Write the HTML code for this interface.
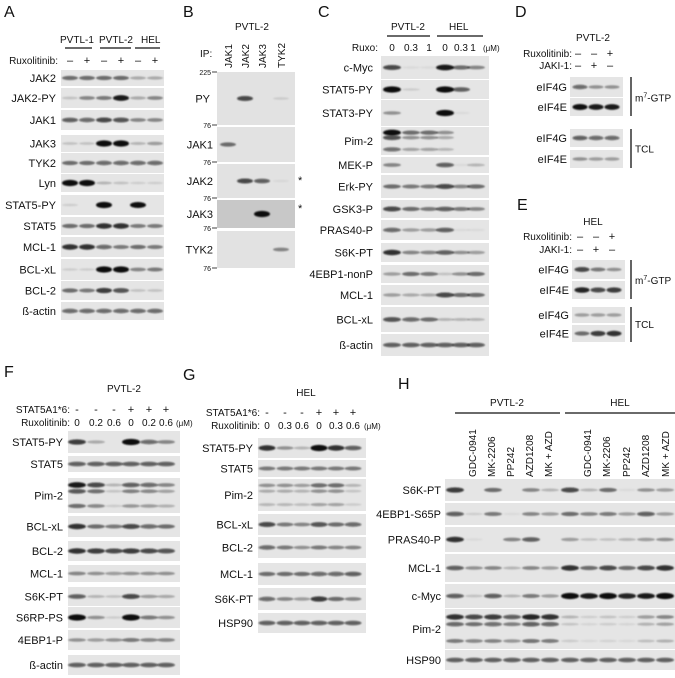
<!DOCTYPE html>
<html><head><meta charset="utf-8">
<style>
html,body{margin:0;padding:0;background:#fff;}
svg{display:block;font-family:"Liberation Sans",Arial,sans-serif;}
</style></head>
<body>
<svg id="fig" width="675" height="678" viewBox="0 0 675 678" xmlns="http://www.w3.org/2000/svg">
<defs><filter id="bl" x="-50%" y="-100%" width="200%" height="300%"><feGaussianBlur stdDeviation="0.8"/></filter></defs>
</svg>
<script>
// ---------- DATA ----------
const A_labels=["JAK2","JAK2-PY","JAK1","JAK3","TYK2","Lyn","STAT5-PY","STAT5","MCL-1","BCL-xL","BCL-2","ß-actin"];
const A_vals=[[.5,.5,.5,.5,.25,.25],[.15,.4,.45,.9,.25,.4],[.6,.55,.7,.65,.4,.4],[.15,.15,1,1,.2,.3],[.5,.5,.55,.55,.55,.55],[1,1,.2,.15,.1,.1],[.1,0,1,0,.95,0],[.5,.5,.8,.8,.45,.45],[.8,.8,.55,.45,.5,.45],[.1,.1,1,1,.4,.45],[.5,.45,.75,.65,.15,.15],[.55,.55,.55,.55,.55,.55]];
const A_treat=["–","+","–","+","–","+"];
const B_ip=["JAK1","JAK2","JAK3","TYK2"];
const B_labels=["PY","JAK1","JAK2","JAK3","TYK2"];
const B_vals=[[0,.7,0,.1],[.5,0,0,0],[0,.7,.6,.05],[0,0,1,0],[0,0,0,.4]];
const C_labels=["c-Myc","STAT5-PY","STAT3-PY","Pim-2","MEK-P","Erk-PY","GSK3-P","PRAS40-P","S6K-PT","4EBP1-nonP","MCL-1","BCL-xL","ß-actin"];
const C_vals=[[.7,.05,.05,.9,.5,.4],[1,.1,0,1,.6,0],[.35,0,0,1,.05,0],[.95,.5,.5,.35,0,0],[.4,0,0,.6,.05,.2],[.5,.45,.45,.7,.4,.5],[.7,.5,.45,.6,.45,.4],[.55,.3,.3,.6,.05,.05],[.8,.4,.4,.6,.35,.3],[.3,.5,.45,.15,.35,.5],[.3,.25,.25,.7,.5,.5],[.65,.55,.5,.2,.2,.2],[.6,.6,.6,.6,.6,.6]];
const C_doses=["0","0.3","1","0","0.3","1"];
const D_labels=["eIF4G","eIF4E","eIF4G","eIF4E"];
const D_vals=[[.55,.35,.35],[.95,.9,.9],[.6,.55,.55],[.35,.3,.3]];
const E_vals=[[.7,.45,.35],[.85,.7,.75],[.3,.3,.3],[.5,.75,.8]];
const DE_rux=["–","–","+"];
const DE_jaki=["–","+","–"];
const F_labels=["STAT5-PY","STAT5","Pim-2","BCL-xL","BCL-2","MCL-1","S6K-PT","S6RP-PS","4EBP1-P","ß-actin"];
const F_vals=[[.75,.25,0,1,.55,.4],[.6,.6,.6,.6,.6,.6],[.9,.7,.2,.6,.55,.4],[.8,.5,.45,.7,.55,.5],[.8,.75,.7,.75,.7,.65],[.4,.35,.3,.35,.35,.35],[.6,.2,.15,.7,.3,.25],[1,.35,.1,1,.45,.35],[.35,.3,.35,.45,.4,.4],[.6,.6,.6,.6,.6,.6]];
const F_stat=["-","-","-","+","+","+"];
const F_doses=["0","0.2","0.6","0","0.2","0.6"];
const G_labels=["STAT5-PY","STAT5","Pim-2","BCL-xL","BCL-2","MCL-1","S6K-PT","HSP90"];
const G_vals=[[.8,.35,.2,1,.8,.6],[.45,.45,.45,.45,.45,.45],[.35,.35,.3,.5,.5,.2],[.7,.45,.4,.65,.5,.55],[.55,.45,.35,.45,.4,.4],[.5,.5,.5,.55,.55,.6],[.55,.4,.3,.75,.5,.4],[.6,.6,.6,.6,.6,.6]];
const G_doses=["0","0.3","0.6","0","0.3","0.6"];
const H_drugs=["GDC-0941","MK-2206","PP242","AZD1208","MK + AZD"];
const H_labels=["S6K-PT","4EBP1-S65P","PRAS40-P","MCL-1","c-Myc","Pim-2","HSP90"];
const H_vals=[[.75,0,.5,0,.4,.2,.7,.2,.5,.05,.35,.3],[.6,.1,.45,.05,.4,.3,.5,.4,.45,.3,.6,.3],[.8,.05,0,.4,.6,0,.3,.15,.15,.2,.3,.35],[.6,.35,.4,.2,.4,.3,.8,.5,.7,.5,.7,.8],[.6,.15,.6,.2,.45,.3,1,.9,1,.85,.9,1],[.8,.7,.75,.6,.85,.8,.2,.1,.15,.1,.3,.4],[.6,.6,.6,.6,.6,.6,.6,.6,.6,.6,.6,.6]];

// ---------- LAYOUT ----------
const svg=document.getElementById('fig');
const NS='http://www.w3.org/2000/svg';
function mk(tag,attrs,parent){const e=document.createElementNS(NS,tag);for(const k in attrs)e.setAttribute(k,attrs[k]);(parent||svg).appendChild(e);return e;}
function txt(x,y,s,size,anchor,name,rot){
  const t=mk('text',{x:x,y:y,'font-size':size||11,'text-anchor':anchor||'start',fill:'#111'});
  if(rot) t.setAttribute('transform','rotate(-90 '+x+' '+y+')');
  t.textContent=s;
  
  
  return t;
}
function line(x1,y1,x2,y2,name,w){
  const l=mk('line',{x1:x1,y1:y1,x2:x2,y2:y2,stroke:'#111','stroke-width':w||1.2});
  
  
}
function blot(x0,x1,y0,y1,lanes,vals,multi,name,bg){
  const g=mk('g',{});
  
  
  mk('rect',{x:x0,y:y0,width:x1-x0,height:y1-y0,fill:bg||'#e5e5e5'},g);
  const lw=(lanes.length>1?(lanes[1]-lanes[0]):20);
  const cy=(y0+y1)/2;
  const offs=multi?[[-0.3,1],[-0.12,.7],[0.3,.55]]:[[0,1]];
  vals.forEach((v,i)=>{
    if(v<=0.01)return;
    offs.forEach(o=>{
      const b=mk('ellipse',{cx:lanes[i],cy:cy+o[0]*(y1-y0),rx:lw*0.47,ry:1.1+2.0*v*o[1],fill:'#0c0c0c','fill-opacity':Math.min(1,v*o[1]*1.05),filter:'url(#bl)'},g);
      
      
    });
  });
}
function panel(rows,labels,vals,x0,x1,lanes,labelX,prefix,multiIdx,size){
  rows.forEach((r,i)=>{
    blot(x0,x1,r[0],r[1],lanes,vals[i],multiIdx.indexOf(i)>=0,prefix+'-blot-'+labels[i].toLowerCase().replace(/[^a-z0-9]+/g,'-'));
    txt(labelX,(r[0]+r[1])/2+4,labels[i],size||11,'end',prefix+'-label');
  });
}

// ===== Panel A =====
txt(4,17,"A",16,'start','panel-a-letter');
txt(60,43,"PVTL-1",10,'start','a-header-pvtl1');line(65,48,92,48,'a-line');
txt(99,43,"PVTL-2",10,'start','a-header-pvtl2');line(100,48,131,48,'a-line');
txt(141,43,"HEL",10,'start','a-header-hel');line(135,48,160,48,'a-line');
txt(58,64,"Ruxolitinib:",10,'end','a-ruxolitinib-label');
const A_lanes=[70,87,104,121,138,155];
A_treat.forEach((s,i)=>txt(A_lanes[i],64,s,11,'middle','a-treatment'));
const A_rows=[[70,86],[88,108],[110,130],[135,152],[153,173],[174,192],[195,215],[217,235],[237,257],[259,280],[281,300],[302,320]];
panel(A_rows,A_labels,A_vals,61,164,A_lanes,56,'a',[]);

// ===== Panel B =====
txt(183,17,"B",16,'start','panel-b-letter');
txt(235,30,"PVTL-2",10,'start','b-header');
txt(200,57,"IP:",10,'start','b-ip-label');
const B_lanes=[228,245,262,281];
B_ip.forEach((s,i)=>txt(B_lanes[i]+4,68,s,10,'start','b-ip-lane',true));
const B_rows=[[72,125],[127,162],[164,198],[200,228],[231,268]];
B_rows.forEach((r,i)=>{
  blot(217,295,r[0],r[1],B_lanes,B_vals[i],false,'b-blot-'+B_labels[i].toLowerCase(),i==3?'#c8c8c8':'#e2e2e2');
  txt(i==0?210:213,(r[0]+r[1])/2+4,B_labels[i],11,'end','b-label');
  txt(211,r[1]+3,"76",7,'end','b-marker-76');line(212,r[1],217,r[1],'b-marker-tick',0.8);
});
txt(211,75,"225",7,'end','b-marker-225');line(212,72,217,72,'b-marker-tick',0.8);
txt(298,184,"*",11,'start','b-asterisk');txt(298,212,"*",11,'start','b-asterisk');

// ===== Panel C =====
txt(318,17,"C",16,'start','panel-c-letter');
txt(391,30,"PVTL-2",10,'start','c-header-pvtl2');line(387,36,430,36,'c-line');
txt(449,30,"HEL",10,'start','c-header-hel');line(437,36,483,36,'c-line');
txt(378,51,"Ruxo:",10,'end','c-ruxo-label');
const C_lanes=[392,411,429,445,461,476];
C_doses.forEach((s,i)=>txt(C_lanes[i]-(i==5?3:0),51,s,10,'middle','c-dose'));
txt(483,51,"(μM)",8,'start','c-unit');
const C_rows=[[56,79],[80,99],[100,126],[127,155],[157,173],[175,198],[200,218],[220,240],[243,262],[265,283],[285,305],[307,332],[334,356]];
panel(C_rows,C_labels,C_vals,381,489,C_lanes,373,'c',[3]);

// ===== Panel D / E =====
function deP(letter,ly,cell,hy,ry,jy,rows,vals,x0,x1,pref){
  txt(x0-55,ly,letter,16,'start','panel-'+pref+'-letter');
  txt(593,hy,cell,10,'middle',pref+'-header');
  txt(572,ry,"Ruxolitinib:",10,'end',pref+'-ruxolitinib-label');
  txt(572,jy,"JAKI-1:",10,'end',pref+'-jaki1-label');
  const lanes=[x0+10,x0+26,x0+42];
  DE_rux.forEach((s,i)=>txt(lanes[i]-2,ry,s,11,'middle',pref+'-rux-sign'));
  DE_jaki.forEach((s,i)=>txt(lanes[i]-2,jy,s,11,'middle',pref+'-jaki-sign'));
  rows.forEach((r,i)=>{
    blot(x0,x1,r[0],r[1],lanes,vals[i],false,pref+'-blot-'+i);
    txt(x0-3,(r[0]+r[1])/2+4,D_labels[i],11,'end',pref+'-label');
  });
  line(631,rows[0][0],631,rows[1][1],pref+'-bracket-gtp',1.3);
  line(631,rows[2][0],631,rows[3][1],pref+'-bracket-tcl',1.3);
  const m=txt(635,(rows[0][1]+rows[1][0])/2+4,"m",10,'start',pref+'-m7gtp-label');
  const s1=document.createElementNS(NS,'tspan');s1.setAttribute('dy','-4');s1.setAttribute('font-size','7');s1.textContent='7';m.appendChild(s1);
  const s2=document.createElementNS(NS,'tspan');s2.setAttribute('dy','4');s2.textContent='-GTP';m.appendChild(s2);
  txt(635,(rows[2][1]+rows[3][0])/2+4,"TCL",10,'start',pref+'-tcl-label');
}
deP("D",17,"PVTL-2",41,57,69,[[77,97],[98,116],[129,147],[150,168]],D_vals,570,623,'d');
deP("E",210,"HEL",225,240,253,[[260,279],[281,299],[307,323],[325,342]],E_vals,572,625,'e');

// ===== Panel F =====
txt(4,377,"F",16,'start','panel-f-letter');
txt(107,392,"PVTL-2",10,'start','f-header');
const F_lanes=[77,96,114,131,149,166];
txt(70,413,"STAT5A1*6:",10,'end','f-stat5-label');
F_stat.forEach((s,i)=>txt(F_lanes[i],413,s,11,'middle','f-stat5-sign'));
txt(70,426,"Ruxolitinib:",10,'end','f-rux-label');
F_doses.forEach((s,i)=>txt(F_lanes[i],426,s,10,'middle','f-dose'));
txt(176,426,"(μM)",8,'start','f-unit');
const F_rows=[[431,453],[456,472],[478,513],[516,537],[541,561],[565,582],[587,606],[607,628],[630,650],[655,675]];
panel(F_rows,F_labels,F_vals,68,180,F_lanes,63,'f',[2]);

// ===== Panel G =====
txt(183,380,"G",16,'start','panel-g-letter');
txt(306,396,"HEL",10,'middle','g-header');
const G_lanes=[267,285,302,319,336,353];
txt(260,416,"STAT5A1*6:",10,'end','g-stat5-label');
F_stat.forEach((s,i)=>txt(G_lanes[i],416,s,11,'middle','g-stat5-sign'));
txt(260,429,"Ruxolitinib:",10,'end','g-rux-label');
G_doses.forEach((s,i)=>txt(G_lanes[i],429,s,10,'middle','g-dose'));
txt(364,429,"(μM)",8,'start','g-unit');
const G_rows=[[438,458],[460,477],[479,511],[514,535],[537,558],[563,585],[588,610],[613,633]];
panel(G_rows,G_labels,G_vals,258,366,G_lanes,253,'g',[2]);

// ===== Panel H =====
txt(398,389,"H",16,'start','panel-h-letter');
txt(507,406,"PVTL-2",10,'middle','h-header-pvtl2');line(455,413,560,413,'h-line');
txt(620,406,"HEL",10,'middle','h-header-hel');line(565,413,675,413,'h-line');
const H_labX=[472,491,510,529,548,587,606,626,645,665];
H_labX.forEach((x,i)=>txt(x+4,477,H_drugs[i%5],10,'start','h-drug-label',true));
const H_lanes=[455,474,493,512,531,550,570,589,608,627,646,665];
const H_rows=[[479,501],[503,525],[527,552],[554,582],[584,608],[609,649],[650,670]];
panel(H_rows,H_labels,H_vals,445,675,H_lanes,441,'h',[5]);
</script>
</body></html>
